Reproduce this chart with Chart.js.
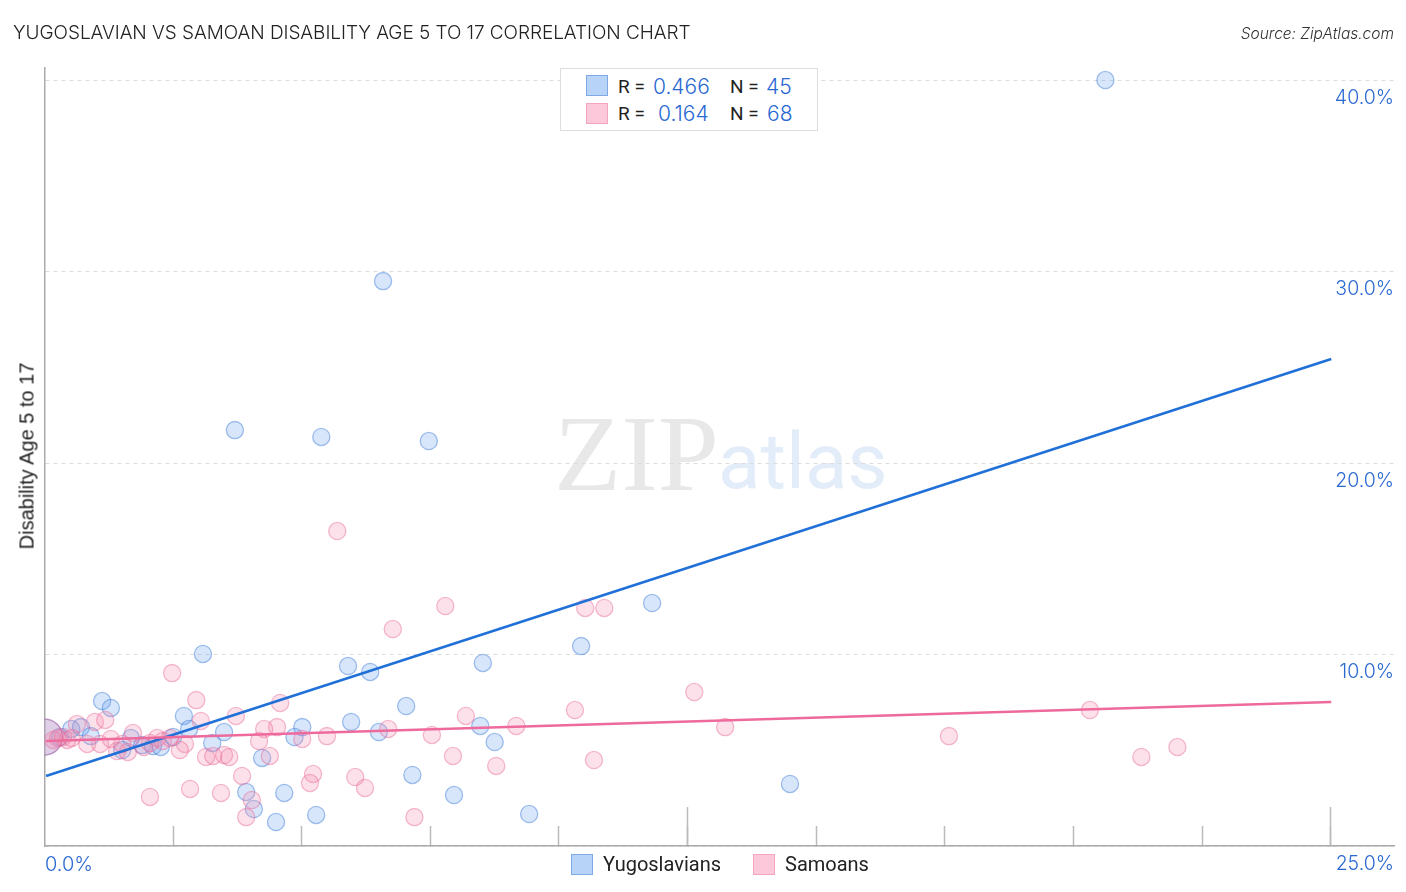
<!DOCTYPE html>
<html><head><meta charset="utf-8">
<script src="https://cdn.jsdelivr.net/npm/chart.js@4"></script>
<style>
html,body{margin:0;padding:0;background:#fff;width:1406px;height:892px;overflow:hidden}
#wrap{position:relative;width:1406px;height:892px;font-family:Inter,sans-serif}
canvas{position:absolute;left:0;top:0}
.t{position:absolute;white-space:nowrap;line-height:1}
.blue{color:#2a68d2;font-weight:300}
.sw{position:absolute;width:20px;height:20px;box-sizing:border-box}
.swb{background:#b7d3f8;border:1.5px solid #7fa9e4}
.swp{background:#fcc8da;border:1.5px solid #f2a5c0}
.lab{font-family:Roboto,sans-serif;color:#222}
</style></head><body>
<div id="wrap">
<div class="t" style="left:554px;top:400px;font:100px/1 'Liberation Serif',serif;color:#e8e8e8;transform-origin:left top;transform:scaleX(1.1) scaleY(1.08)">ZIP</div>
<div class="t" style="left:718px;top:423px;font:78px/1 Roboto,sans-serif;color:#e3edfa">atlas</div>
<canvas id="c" width="1406" height="892"></canvas>
<div class="t" style="left:13px;top:23px;font-size:19px;font-weight:300;color:#222;letter-spacing:-.06px">YUGOSLAVIAN VS SAMOAN DISABILITY AGE 5 TO 17 CORRELATION CHART</div>
<div class="t" style="right:12px;top:24px;font:italic 15.5px Inter,sans-serif;font-weight:300;color:#333">Source: ZipAtlas.com</div>
<div class="t" style="left:27px;top:456px;font:20px 'Liberation Sans',sans-serif;color:#222;transform:translate(-50%,-50%) rotate(-90deg)">Disability Age 5 to 17</div>
<div style="position:absolute;left:560px;top:68px;width:258px;height:63px;box-sizing:border-box;background:#fff;border:1.5px solid #ddd"></div>
<div class="sw swb" style="left:586px;top:75px;width:22px;height:21px"></div>
<div class="sw swp" style="left:586px;top:103px;width:22px;height:21px"></div>
<div class="t lab" style="left:618px;top:77px;font-size:19px">R =</div>
<div class="t blue" style="left:653px;top:76px;font-size:21px">0.466</div>
<div class="t lab" style="left:730px;top:77px;font-size:19px">N =</div>
<div class="t blue" style="left:766px;top:76px;font-size:21px">45</div>
<div class="t lab" style="left:618px;top:104px;font-size:19px">R =</div>
<div class="t blue" style="left:658px;top:103px;font-size:21px">0.164</div>
<div class="t lab" style="left:730px;top:104px;font-size:19px">N =</div>
<div class="t blue" style="left:767px;top:103px;font-size:21px">68</div>
<div class="t blue" style="left:45px;top:854px;font-size:20px">0.0%</div>
<div class="t blue" style="right:12px;top:854px;font-size:19.5px">25.0%</div>
<div class="sw swb" style="left:571px;top:854px;width:22px;height:21px"></div>
<div class="t lab" style="left:603px;top:854px;font-size:20px">Yugoslavians</div>
<div class="sw swp" style="left:753px;top:854px;width:22px;height:21px"></div>
<div class="t lab" style="left:785px;top:854px;font-size:20px">Samoans</div>
</div>
<script>
const blueX=[20.62,6.58,3.70,5.38,7.47,11.81,10.43,3.08,5.90,6.33,8.52,1.12,1.29,7.03,2.71,5.96,5.01,2.81,3.49,4.86,6.50,8.47,8.75,3.26,4.23,7.15,14.49,7.96,3.92,4.66,4.07,5.28,4.50,9.42,0.52,0.71,0.90,0.30,1.68,1.51,1.90,2.11,2.26,2.50,0.0];
const blueY=[40.0,29.5,21.72,21.36,21.15,12.69,10.44,10.03,9.40,9.09,9.56,7.57,7.21,7.31,6.79,6.48,6.21,6.11,5.95,5.69,5.95,6.27,5.43,5.38,4.60,3.71,3.24,2.66,2.82,2.77,1.93,1.62,1.25,1.67,6.11,6.21,5.74,5.69,5.64,5.01,5.27,5.22,5.17,5.69,5.69];
const pinkX=[2.48,2.95,3.72,4.58,3.04,0.98,1.18,0.63,4.52,4.27,4.17,5.01,5.49,1.72,1.29,1.08,0.83,0.44,0.17,0.36,1.41,1.62,1.93,2.19,2.30,2.73,2.63,3.14,3.28,3.49,3.59,4.38,3.84,5.22,5.16,4.03,2.83,3.43,2.05,3.92,6.04,5.69,7.79,6.77,10.51,10.88,12.63,20.32,13.23,22.02,21.32,17.58,10.68,10.31,8.19,9.17,7.53,6.68,7.94,8.78,6.23,7.19,0.26,0.53,1.51,2.05,2.44,0.0];
const pinkY=[9.03,7.62,6.79,7.47,6.53,6.48,6.58,6.37,6.21,6.11,5.48,5.59,5.74,5.90,5.59,5.33,5.33,5.54,5.54,5.69,4.96,4.91,5.17,5.64,5.48,5.33,5.01,4.65,4.70,4.75,4.65,4.70,3.66,3.76,3.29,2.40,2.98,2.77,2.56,1.51,3.60,16.45,12.53,11.33,12.43,12.43,8.04,7.10,6.21,5.17,4.65,5.74,4.49,7.10,6.79,6.27,5.80,6.11,4.70,4.18,3.03,1.51,5.64,5.64,5.33,5.38,5.64,5.69];
const blueTrendX=[0.03,25.01], blueTrendY=[3.66,25.43];
const pinkTrendX=[0.03,25.01], pinkTrendY=[5.48,7.52];
const xMin=0,xMax=26.23,yMin=0,yMax=40.63,xStep=2.5,xStepLong=12.5,yStep=10;
const zip=(a,b)=>a.map((v,i)=>({x:v,y:b[i]}));
const big=(n)=>(ctx)=>ctx.dataIndex===n-1?18:8.6;
const zero=(s)=>{s.width=0};
const zeroH=(s)=>{s.height=0};
const axisCol='#aaaaaa';
const tickCol=(ctx)=>ctx.tick&&ctx.tick.value===0?'rgba(0,0,0,0)':'#bbbbbb';
new Chart(document.getElementById('c'),{
 type:'scatter',
 data:{datasets:[
  {data:zip(pinkTrendX,pinkTrendY),showLine:true,pointRadius:0,borderColor:'#ee6a9c',borderWidth:2.6,order:0},
  {data:zip(blueTrendX,blueTrendY),showLine:true,pointRadius:0,borderColor:'#2070d8',borderWidth:2.6,order:1},
  {data:zip(pinkX,pinkY),pointRadius:big(pinkX.length),pointBackgroundColor:'rgba(245,140,175,.26)',pointBorderColor:'rgba(232,96,145,.42)',pointBorderWidth:1.3,order:2},
  {data:zip(blueX,blueY),pointRadius:big(blueX.length),pointBackgroundColor:'rgba(110,165,240,.28)',pointBorderColor:'rgba(40,110,210,.42)',pointBorderWidth:1.3,order:3}
 ]},
 options:{
  responsive:false,animation:false,devicePixelRatio:1,
  layout:{padding:{left:44.5,top:68,right:12,bottom:46},autoPadding:false},
  plugins:{legend:{display:false},title:{display:false},tooltip:{enabled:false}},
  scales:{
   x:{type:'linear',position:'bottom',min:xMin,max:xMax,afterFit:zeroH,
      ticks:{display:false,stepSize:xStep,includeBounds:false,autoSkip:false},
      grid:{drawOnChartArea:false,tickLength:-20,tickColor:tickCol,tickWidth:1.5},
      border:{color:axisCol,width:1.5}},
   xLong:{axis:'x',type:'linear',position:'bottom',min:xMin,max:xMax,afterFit:zeroH,
      ticks:{display:false,stepSize:xStepLong,includeBounds:false,autoSkip:false},
      grid:{drawOnChartArea:false,tickLength:-39,tickColor:tickCol,tickWidth:1.5},
      border:{display:false}},
   y:{type:'linear',position:'left',min:yMin,max:yMax,afterFit:zero,
      ticks:{display:false,stepSize:yStep,includeBounds:false},
      grid:{drawTicks:false,color:'#dcdcdc',lineWidth:1},
      border:{color:axisCol,width:1.5,dash:[4,4]}},
   yLabels:{axis:'y',type:'linear',position:'right',min:yMin,max:yMax,afterFit:zero,
      ticks:{stepSize:yStep,includeBounds:false,mirror:true,padding:0,labelOffset:18,color:'#2a68d2',
        font:{family:'Inter',size:19.5,weight:'300'},
        callback:(v)=>v>0?v.toFixed(1)+'%':''},
      grid:{display:false},border:{display:false}}
  }
 }
});
</script>
</body></html>
